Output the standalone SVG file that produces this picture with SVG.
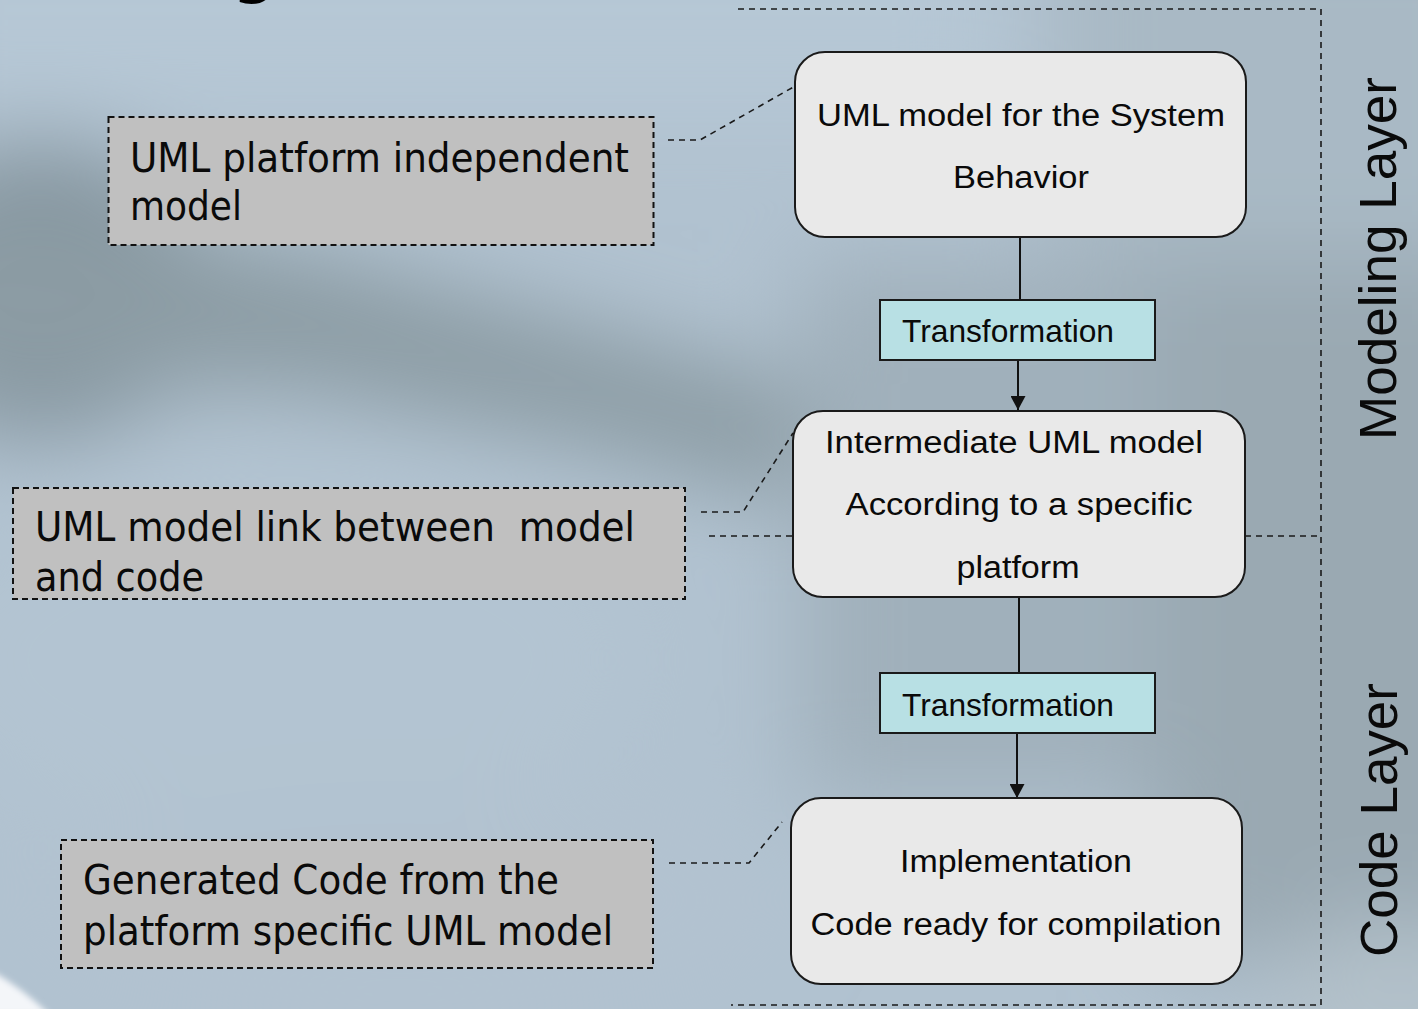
<svg xmlns="http://www.w3.org/2000/svg" width="1418" height="1009" viewBox="0 0 1418 1009">
  <defs>
    <style>
      .note { fill: #c0c0c0; stroke: #111; stroke-width: 2; stroke-dasharray: 6 4; }
      .note-text { font-family: "DejaVu Sans Condensed", "DejaVu Sans", sans-serif; font-stretch: condensed; font-size: 41px; fill: #0a0a0a; white-space: pre; }
      .state { fill: #e9e9e9; stroke: #1a1a1a; stroke-width: 2; }
      .state-text { font-family: "Liberation Sans", Arial, sans-serif; font-size: 31px; fill: #0a0a0a; text-anchor: middle; }
      .step { fill: #b8e0e4; stroke: #1a1a1a; stroke-width: 2; }
      .step-text { font-family: "Liberation Sans", Arial, sans-serif; font-size: 31.5px; fill: #0a0a0a; }
      .layer-text { font-family: "Liberation Sans", Arial, sans-serif; font-size: 51px; fill: #0a0a0a; text-anchor: middle; }
      .frame { fill: none; stroke: #1a1a1a; stroke-width: 1.6; stroke-dasharray: 6 5; }
      .link { fill: none; stroke: #1a1a1a; stroke-width: 1.6; stroke-dasharray: 6 5; }
      .flow { fill: none; stroke: #111; stroke-width: 2; }
    </style>
    <marker id="arrowhead" markerWidth="15" markerHeight="15" refX="14" refY="7.5" orient="auto" markerUnits="userSpaceOnUse">
      <path d="M0,0 L14,7.5 L0,15 Z" fill="#111"/>
    </marker>
    <filter id="haze" filterUnits="userSpaceOnUse" x="-300" y="-300" width="2018" height="1609">
      <feGaussianBlur stdDeviation="45"/>
    </filter>
    <filter id="soft" filterUnits="userSpaceOnUse" x="-100" y="800" width="400" height="400">
      <feGaussianBlur stdDeviation="3"/>
    </filter>
  </defs>

  <!-- backdrop -->
  <g id="backdrop">
    <rect x="0" y="0" width="1418" height="1009" fill="#b1c2d0"/>
    <g filter="url(#haze)">
      <rect x="-100" y="-100" width="1100" height="220" fill="#b6c7d5"/>
      <rect x="1050" y="-100" width="470" height="360" fill="#a9b9c5"/>
      <ellipse cx="40" cy="290" rx="170" ry="150" fill="#84949e"/>
      <polygon points="-100,200 300,250 600,330 850,400 1100,430 1520,400 1520,560 1100,560 850,520 600,450 300,390 -100,380" fill="#8c9ca4"/>
      <rect x="800" y="260" width="450" height="540" fill="#a0b0bb"/>
      <rect x="1150" y="260" width="370" height="700" fill="#9aa9b2"/>
      <ellipse cx="1400" cy="1010" rx="140" ry="90" fill="#b3c1ca"/>
      <ellipse cx="280" cy="660" rx="360" ry="190" fill="#b3c4d2"/>
      <ellipse cx="400" cy="900" rx="380" ry="120" fill="#b2c2d0"/>
    </g>
    <path d="M-10,970 Q22,988 50,1015 L-10,1015 Z" fill="#f4f6f9" filter="url(#soft)"/>
    <text x="233" y="-9" font-family="DejaVu Sans, sans-serif" font-weight="bold" font-size="60" fill="#000">g</text>
  </g>

  <!-- layer frame and divider -->
  <g id="layer-frame">
    <path class="frame" d="M738,9 H1321 V1005 H731"/>
    <path class="frame" d="M709,536 H793"/>
    <path class="frame" d="M1245,536 H1317"/>
  </g>

  <!-- connectors -->
  <g id="connectors">
    <line class="flow" x1="1020" y1="237" x2="1020" y2="300"/>
    <line class="flow" x1="1018" y1="360" x2="1018" y2="410" marker-end="url(#arrowhead)"/>
    <line class="flow" x1="1019" y1="597" x2="1019" y2="673"/>
    <line class="flow" x1="1017" y1="733" x2="1017" y2="798" marker-end="url(#arrowhead)"/>
    <polyline class="link" points="668,140 700,140 797,85"/>
    <polyline class="link" points="701,512 743,512 793,433"/>
    <polyline class="link" points="669,863 749,863 782,822"/>
  </g>

  <!-- annotation notes -->
  <g id="note-pim">
    <rect class="note" x="108.5" y="117" width="545" height="128"/>
    <text class="note-text" x="130" y="172" textLength="499" lengthAdjust="spacingAndGlyphs">UML platform independent</text>
    <text class="note-text" x="130" y="220" textLength="112" lengthAdjust="spacingAndGlyphs">model</text>
  </g>
  <g id="note-link">
    <rect class="note" x="13" y="488" width="672" height="111"/>
    <text class="note-text" x="35" y="541" textLength="600" lengthAdjust="spacingAndGlyphs">UML model link between  model</text>
    <text class="note-text" x="35" y="591" textLength="169" lengthAdjust="spacingAndGlyphs">and code</text>
  </g>
  <g id="note-code">
    <rect class="note" x="61" y="840" width="592" height="128"/>
    <text class="note-text" x="83" y="894" textLength="476" lengthAdjust="spacingAndGlyphs">Generated Code from the</text>
    <text class="note-text" x="83" y="945" textLength="530" lengthAdjust="spacingAndGlyphs">platform specific UML model</text>
  </g>

  <!-- model states -->
  <g id="state-system">
    <rect class="state" x="795" y="52" width="451" height="185" rx="30" ry="30"/>
    <text class="state-text" x="1021" y="126" textLength="408" lengthAdjust="spacingAndGlyphs">UML model for the System</text>
    <text class="state-text" x="1021" y="188" textLength="136" lengthAdjust="spacingAndGlyphs">Behavior</text>
  </g>
  <g id="step-1">
    <rect class="step" x="880" y="300" width="275" height="60"/>
    <text class="step-text" x="902" y="342" textLength="212" lengthAdjust="spacingAndGlyphs">Transformation</text>
  </g>
  <g id="state-intermediate">
    <rect class="state" x="793" y="411" width="452" height="186" rx="30" ry="30"/>
    <text class="state-text" x="1014" y="453" textLength="378" lengthAdjust="spacingAndGlyphs">Intermediate UML model</text>
    <text class="state-text" x="1019" y="515" textLength="347" lengthAdjust="spacingAndGlyphs">According to a specific</text>
    <text class="state-text" x="1018" y="578" textLength="123" lengthAdjust="spacingAndGlyphs">platform</text>
  </g>
  <g id="step-2">
    <rect class="step" x="880" y="673" width="275" height="60"/>
    <text class="step-text" x="902" y="716" textLength="212" lengthAdjust="spacingAndGlyphs">Transformation</text>
  </g>
  <g id="state-implementation">
    <rect class="state" x="791" y="798" width="451" height="186" rx="30" ry="30"/>
    <text class="state-text" x="1016" y="872" textLength="232" lengthAdjust="spacingAndGlyphs">Implementation</text>
    <text class="state-text" x="1016" y="935" textLength="411" lengthAdjust="spacingAndGlyphs">Code ready for compilation</text>
  </g>

  <!-- layer captions -->
  <g id="label-modeling">
    <text class="layer-text" transform="translate(1396,258.5) rotate(-90)" textLength="363" lengthAdjust="spacingAndGlyphs">Modeling Layer</text>
  </g>
  <g id="label-code">
    <text class="layer-text" transform="translate(1397,820) rotate(-90)" textLength="274" lengthAdjust="spacingAndGlyphs">Code Layer</text>
  </g>
</svg>
